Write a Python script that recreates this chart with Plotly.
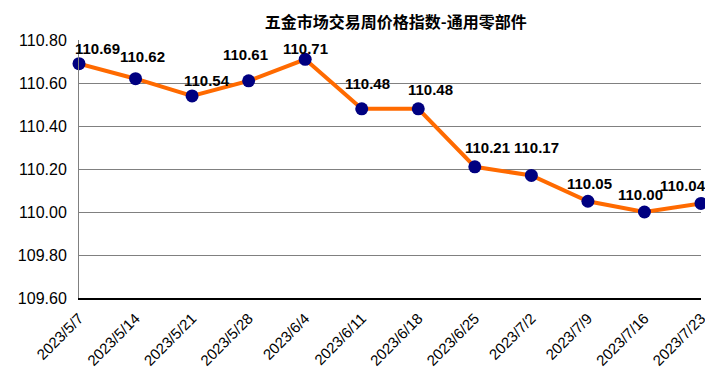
import plotly.graph_objects as go

dates = ["2023/5/7", "2023/5/14", "2023/5/21", "2023/5/28", "2023/6/4", "2023/6/11",
         "2023/6/18", "2023/6/25", "2023/7/2", "2023/7/9", "2023/7/16", "2023/7/23"]
values = [110.69, 110.62, 110.54, 110.61, 110.71, 110.48, 110.48, 110.21, 110.17, 110.05, 110.00, 110.04]
y_ticks = [109.6, 109.8, 110.0, 110.2, 110.4, 110.6, 110.8]
title = "五金市场交易周价格指数-通用零部件"

idx = list(range(len(dates)))

fig = go.Figure()
fig.add_trace(go.Scatter(
    x=idx, y=values, mode="lines+markers",
    line=dict(color="#FF6A00", width=4),
    marker=dict(color="#000080", size=13),
    cliponaxis=False, showlegend=False, hoverinfo="skip",
))

# label placement offsets (pixels), styling only
label_dx = [18, 7, 15, -3, 0, 6, 12, 13, 5, 2, -4, -18]
label_dy = [15, 22, 15, 26, 11, 25, 19, 19, 28, 18, 18, 18]
for i, v in zip(idx, values):
    fig.add_annotation(
        x=i, y=v, text=f"{v:.2f}", showarrow=False,
        yshift=label_dy[i], xshift=label_dx[i],
        font=dict(family="Arial, Liberation Sans", size=15, color="#000000", weight="bold"),
    )

fig.update_layout(
    width=705, height=371,
    margin=dict(l=71, r=12, t=32, b=81),
    paper_bgcolor="white", plot_bgcolor="white",
    title=dict(text=title, x=0.55, xanchor="center", y=0.962, yanchor="middle",
               font=dict(family="Noto Sans CJK SC", size=16, color="#000000", weight="bold")),
    xaxis=dict(
        range=[0, len(idx) - 1], tickmode="array", tickvals=idx, ticktext=dates,
        tickangle=-45, showgrid=False, zeroline=False, automargin=False,
        showline=True, linecolor="#000000", linewidth=1.5,
        tickfont=dict(family="Arial, Liberation Sans", size=15, color="#000000"),
        ticks="", ticklabelstandoff=4,
    ),
    yaxis=dict(
        range=[109.6, 110.8], tickmode="array", tickvals=y_ticks,
        ticktext=[f"{t:.2f}" for t in y_ticks], automargin=False,
        showgrid=True, gridcolor="#808080", gridwidth=1, zeroline=False,
        showline=True, linecolor="#808080", linewidth=1,
        tickfont=dict(family="Arial, Liberation Sans", size=16, color="#000000"),
        ticks="", ticklabelstandoff=8,
    ),
)

fig.write_html("out.html")
